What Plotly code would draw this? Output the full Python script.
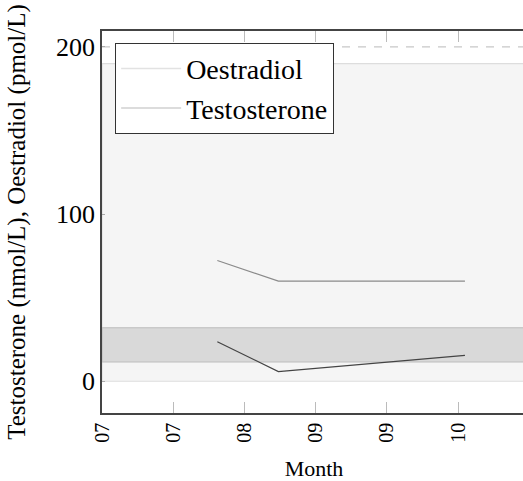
import plotly.graph_objects as go

# ---- data ----
dates = ["2023-08-08", "2023-08-26", "2023-10-20"]
oestradiol = [72.2, 59.9, 59.9]
testosterone = [23.6, 5.8, 15.5]

oestradiol_range = [0, 190]
testosterone_range = [11.5, 32]
oestradiol_limit = 200

y_tick_vals = [0, 100, 200]
x_range = ["2023-07-05", "2023-11-07"]

FONT = "Liberation Serif, Times New Roman, serif"

fig = go.Figure()

# legend-only entries
fig.add_trace(go.Scatter(x=[None], y=[None], mode="lines", name="Oestradiol",
                         line=dict(color="#e2e2e2", width=1.5), showlegend=True))
fig.add_trace(go.Scatter(x=[None], y=[None], mode="lines", name="Testosterone",
                         line=dict(color="#d0d0d0", width=1.5), showlegend=True))

fig.add_trace(go.Scatter(x=dates, y=oestradiol, mode="lines", name="Oestradiol",
                         line=dict(color="#8a8a8a", width=1.2), showlegend=False))
fig.add_trace(go.Scatter(x=dates, y=testosterone, mode="lines", name="Testosterone",
                         line=dict(color="#444444", width=1.2), showlegend=False))

shapes = [
    dict(type="rect", xref="paper", yref="y", x0=0, x1=1.05,
         y0=oestradiol_range[0], y1=oestradiol_range[1],
         fillcolor="#f5f5f5", line=dict(color="#dddddd", width=1.2), layer="below"),
    dict(type="rect", xref="paper", yref="y", x0=0, x1=1.05,
         y0=testosterone_range[0], y1=testosterone_range[1],
         fillcolor="#d9d9d9", line=dict(color="#bdbdbd", width=1.2), layer="below"),
    dict(type="line", xref="paper", yref="y", x0=0, x1=1.05,
         y0=oestradiol_limit, y1=oestradiol_limit,
         line=dict(color="#c8c8c8", width=1.2, dash="8px,8px"), layer="below"),
]

# figure is slightly wider than the 523px window: the chart is cut at the right edge
fig.update_layout(
    width=526, height=481,
    margin=dict(l=102, r=0, t=31, b=66),
    paper_bgcolor="white", plot_bgcolor="white",
    font=dict(family=FONT, color="black"),
    shapes=shapes,
    showlegend=True,
    legend=dict(x=0.031, y=0.969, xanchor="left", yanchor="top",
                bgcolor="white", bordercolor="#333333", borderwidth=1,
                font=dict(family=FONT, size=28), itemwidth=60,
                tracegroupgap=0),
    xaxis=dict(
        type="date", range=x_range, tick0="2023-07-05", dtick=21 * 86400000,
        tickformat="%m", tickangle=-90, tickfont=dict(size=20, family=FONT),
        ticks="inside", ticklen=11, tickcolor="#bbbbbb", tickwidth=1,
        showline=True, linecolor="#444444", linewidth=1.5, mirror="ticks",
        showgrid=False, zeroline=False,
        title=dict(text="Month", font=dict(size=22, family=FONT), standoff=23),
    ),
    yaxis=dict(
        range=[-19, 209.5], tickvals=y_tick_vals,
        tickfont=dict(size=26, family=FONT),
        ticks="inside", ticklen=3, tickcolor="#aaaaaa",
        showline=True, linecolor="#444444", linewidth=1.5, mirror=False,
        showgrid=False, zeroline=False, ticklabelstandoff=0,
        title=dict(text="Testosterone (nmol/L), Oestradiol (pmol/L)",
                   font=dict(size=25, family=FONT), standoff=23),
    ),
)

fig.write_html("out.html", config={"displayModeBar": False},
               post_script="document.body.style.margin='0';document.body.style.overflow='hidden';")
